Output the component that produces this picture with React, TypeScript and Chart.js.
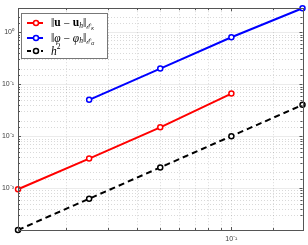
import React, { useEffect, useRef } from 'react';
import { Chart, registerables } from 'chart.js';
Chart.register(...registerables);

// mesh sizes and errors
const hRed = [0.0125, 0.025, 0.05, 0.1];
const errU = [0.00095, 0.0037, 0.0148, 0.066];
const hBlue = [0.025, 0.05, 0.1, 0.2];
const errPhi = [0.05, 0.2, 0.8, 2.9];
const hBlack = [0.0125, 0.025, 0.05, 0.1, 0.2];
const hSq = [1.5625e-4, 6.25e-4, 0.0025, 0.01, 0.04];

const xRange = [0.0125, 0.2];
const yRange = [1.5625e-4, 2.9];

const xTickLabels: Record<string, string> = { '-1': '10⁻¹' };
const yTickLabels: Record<string, string> = { '0': '10⁰', '-1': '10⁻¹', '-2': '10⁻²', '-3': '10⁻³' };

const seriesLabels = ['‖u − uh‖ℰκ', '‖φ − φh‖ℰα', 'h²'];

type Seg = { t: string; w?: string; s?: number; dy?: number; st?: string };
const legendText: Seg[][] = [
  [
    { t: '‖' }, { t: 'u', w: 'bold' }, { t: ' − ' }, { t: 'u', w: 'bold' },
    { t: 'h', st: 'italic', s: 7.5, dy: 3 }, { t: '‖' },
    { t: 'ℰ', st: 'italic', s: 7.5, dy: 3.5 }, { t: 'κ', st: 'italic', s: 5.5, dy: 5 },
  ],
  [
    { t: '‖' }, { t: 'φ', st: 'italic' }, { t: ' − ' }, { t: 'φ', st: 'italic' },
    { t: 'h', st: 'italic', s: 7.5, dy: 3 }, { t: '‖' },
    { t: 'ℰ', st: 'italic', s: 7.5, dy: 3.5 }, { t: 'α', st: 'italic', s: 5.5, dy: 5 },
  ],
  [{ t: 'h', st: 'italic' }, { t: '2', s: 7.5, dy: -4 }],
];

const isMajor = (v: number) => Math.abs(Math.log10(v) - Math.round(Math.log10(v))) < 1e-6;

const decorPlugin = {
  id: 'decor',
  beforeDatasetsDraw(chart: any) {
    const { ctx, chartArea: a, scales } = chart;
    ctx.save();
    ctx.lineWidth = 1;
    for (const t of scales.x.ticks) {
      const px = Math.round(scales.x.getPixelForValue(t.value)) + 0.5;
      if (px <= a.left + 1 || px >= a.right - 1) continue;
      ctx.setLineDash([1, 2]);
      ctx.strokeStyle = 'rgba(0,0,0,0.15)';
      ctx.beginPath(); ctx.moveTo(px, a.top); ctx.lineTo(px, a.bottom); ctx.stroke();
    }
    for (const t of scales.y.ticks) {
      const py = Math.round(scales.y.getPixelForValue(t.value)) + 0.5;
      if (py <= a.top + 1 || py >= a.bottom - 1) continue;
      const maj = isMajor(t.value);
      ctx.setLineDash(maj ? [] : [1, 2]);
      ctx.strokeStyle = maj ? 'rgba(0,0,0,0.08)' : 'rgba(0,0,0,0.15)';
      ctx.beginPath(); ctx.moveTo(a.left, py); ctx.lineTo(a.right, py); ctx.stroke();
    }
    ctx.restore();
  },
  afterDraw(chart: any) {
    const { ctx, chartArea: a, scales } = chart;
    ctx.save();
    ctx.strokeStyle = '#555';
    ctx.lineWidth = 1;
    // inside ticks
    for (const t of scales.x.ticks) {
      const px = Math.round(scales.x.getPixelForValue(t.value)) + 0.5;
      const len = isMajor(t.value) ? 3 : 2;
      ctx.beginPath();
      ctx.moveTo(px, a.bottom); ctx.lineTo(px, a.bottom - len);
      ctx.moveTo(px, a.top); ctx.lineTo(px, a.top + len);
      ctx.stroke();
    }
    for (const t of scales.y.ticks) {
      const py = Math.round(scales.y.getPixelForValue(t.value)) + 0.5;
      const len = isMajor(t.value) ? 3 : 2;
      ctx.beginPath();
      ctx.moveTo(a.left, py); ctx.lineTo(a.left + len, py);
      ctx.moveTo(a.right, py); ctx.lineTo(a.right - len, py);
      ctx.stroke();
    }
    ctx.strokeRect(Math.round(a.left) + 0.5, Math.round(a.top) + 0.5, Math.round(a.right - a.left), Math.round(a.bottom - a.top));

    // legend
    const bx = Math.round(a.left) + 3, by = Math.round(a.top) + 5, bw = 86, bh = 45;
    ctx.fillStyle = '#fff';
    ctx.fillRect(bx, by, bw, bh);
    ctx.strokeStyle = '#777';
    ctx.strokeRect(bx + 0.5, by + 0.5, bw, bh);
    const rows = [by + 10, by + 25, by + 38];
    chart.data.datasets.forEach((ds: any, i: number) => {
      const y = rows[i];
      ctx.save();
      ctx.strokeStyle = ds.borderColor;
      ctx.lineWidth = 2;
      ctx.setLineDash(ds.borderDash ? [4, 3] : []);
      ctx.beginPath(); ctx.moveTo(bx + 6, y); ctx.lineTo(bx + 22, y); ctx.stroke();
      ctx.setLineDash([]);
      ctx.lineWidth = 1.5;
      ctx.fillStyle = '#fff';
      ctx.beginPath(); ctx.arc(bx + 15, y, 2.5, 0, Math.PI * 2); ctx.fill(); ctx.stroke();
      ctx.restore();
      let x = bx + 30;
      ctx.fillStyle = '#000';
      ctx.textBaseline = 'middle';
      for (const s of legendText[i]) {
        ctx.font = `${s.st || 'normal'} ${s.w || 'normal'} ${s.s || 11.5}px "Liberation Serif", "DejaVu Serif", serif`;
        ctx.fillText(s.t, x, y + (s.dy || 0) + 0.5);
        x += ctx.measureText(s.t).width;
      }
    });
    ctx.restore();
  },
};

export default function App() {
  const ref = useRef<HTMLCanvasElement>(null);
  useEffect(() => {
    document.body.style.margin = '0';
    const mk = (xs: number[], ys: number[]) => xs.map((x, i) => ({ x, y: ys[i] }));
    const common = { pointRadius: 2.5, pointBorderWidth: 1.5, pointBackgroundColor: '#fff', borderWidth: 2, fill: false, tension: 0, clip: 6 };
    const tickFont = { size: 7, family: '"Liberation Sans", Arial, sans-serif' };
    const chart = new Chart(ref.current!, {
      type: 'line',
      data: {
        datasets: [
          { label: seriesLabels[0], data: mk(hRed, errU), borderColor: '#ff0000', pointBorderColor: '#ff0000', ...common },
          { label: seriesLabels[1], data: mk(hBlue, errPhi), borderColor: '#0000ff', pointBorderColor: '#0000ff', ...common },
          { label: seriesLabels[2], data: mk(hBlack, hSq), borderColor: '#000', pointBorderColor: '#000', borderDash: [6, 4], ...common },
        ],
      },
      options: {
        animation: false,
        responsive: false,
        maintainAspectRatio: false,
        layout: { padding: { top: 4, right: 3, left: 0, bottom: 0 } },
        plugins: { legend: { display: false }, tooltip: { enabled: false } },
        scales: {
          x: {
            type: 'logarithmic',
            min: xRange[0],
            max: xRange[1],
            grid: { display: false, drawTicks: false },
            border: { display: false },
            afterFit: (s: any) => { s.height = 15; },
            ticks: {
              autoSkip: false,
              maxRotation: 0,
              padding: 5,
              color: '#404040',
              font: tickFont,
              callback: (v: any) => {
                const n = Number(v);
                return isMajor(n) ? xTickLabels[String(Math.round(Math.log10(n)))] || '' : '';
              },
            },
          },
          y: {
            type: 'logarithmic',
            min: yRange[0],
            max: yRange[1],
            grid: { display: false, drawTicks: false },
            border: { display: false },
            afterFit: (s: any) => { s.width = 18; },
            ticks: {
              autoSkip: false,
              padding: 4,
              color: '#404040',
              font: tickFont,
              callback: (v: any) => {
                const n = Number(v);
                return isMajor(n) ? yTickLabels[String(Math.round(Math.log10(n)))] || '' : '';
              },
            },
          },
        },
      },
      plugins: [decorPlugin],
    } as any);
    return () => chart.destroy();
  }, []);
  return (
    <div style={{ position: 'absolute', left: 0, top: 0, width: 308, height: 245, background: '#fff' }}>
      <canvas ref={ref} width={308} height={245} style={{ display: 'block' }} />
    </div>
  );
}
